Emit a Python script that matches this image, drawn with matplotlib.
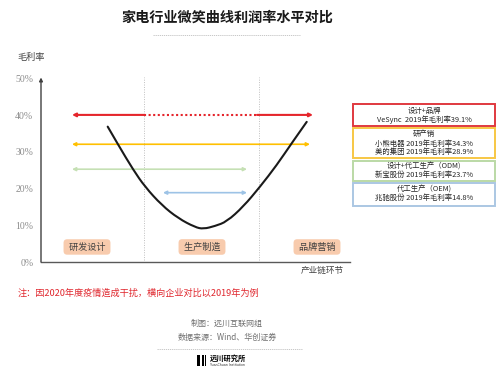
import matplotlib
matplotlib.use("Agg")
import matplotlib.pyplot as plt
from matplotlib.patches import Rectangle, PathPatch
from matplotlib.path import Path

plt.rcParams['font.family'] = ['Noto Sans CJK SC', 'DejaVu Sans']

# ---------------- data ----------------
title = '家电行业微笑曲线利润率水平对比'
stages = ['研发设计', '生产制造', '品牌营销']
stage_centers = [46, 161, 276]          # x positions along the value chain
stage_bounds = [103, 218]               # boundaries between stages
yticks = [0, 10, 20, 30, 40, 50]
ytick_labels = ['0%', '10%', '20%', '30%', '40%', '50%']

# smile curve: x along chain, y = gross margin %
curve_x = [66.7, 77.3, 92.3, 104, 120.7, 137.3, 154, 162.3, 174, 185.7, 202.3, 219, 235.7, 250.7, 265.7]
curve_y = [36.9, 31.9, 25.1, 20.5, 15.5, 11.9, 9.5, 9.0, 9.8, 11.0, 15.1, 20.5, 26.4, 32.4, 38.2]

# margin-level arrows
level_names = ['设计+品牌', '研产销', '设计+代工生产（ODM)', '代工生产（OEM)']
level_values = [40.1, 32.1, 25.3, 18.9]
level_start = [31, 31, 31, 122]
level_end = [272, 269, 206, 206]
level_colors = ['#E5252C', '#FFC000', '#C5E0B4', '#9DC3E6']
box_edge = ['#E0393F', '#F7C744', '#BBD9A6', '#ABC7E3']
level_details = [
    ['VeSync  2019年毛利率39.1%'],
    ['小熊电器 2019年毛利率34.3%', '美的集团 2019年毛利率28.9%'],
    ['新宝股份 2019年毛利率23.7%'],
    ['兆驰股份 2019年毛利率14.8%'],
]

# ---------------- figure ----------------
W, H = 500, 373
fig = plt.figure(figsize=(W / 100, H / 100), dpi=100)
fig.patch.set_facecolor('white')

ov = fig.add_axes([0, 0, 1, 1])
ov.set_xlim(0, W)
ov.set_ylim(0, H)
ov.axis('off')
Y = lambda py: H - py

ax_left, ax_right, ax_bottom = 41, 350, 262
ymax = 52
ax_h = ymax * 3.668
ax = fig.add_axes([ax_left / W, (H - ax_bottom) / H, (ax_right - ax_left) / W, ax_h / H])
ax.set_facecolor('none')
ax.set_xlim(0, ax_right - ax_left)
ax.set_ylim(0, ymax)
for s in ['top', 'right', 'left']:
    ax.spines[s].set_visible(False)
ax.spines['bottom'].set_color('#595959')
ax.spines['bottom'].set_linewidth(1.0)
ax.set_xticks([])
ax.set_yticks(yticks)
ax.set_yticklabels(ytick_labels, family='Liberation Serif', fontsize=7, color='#8c8c8c')
ax.tick_params(axis='y', length=0, pad=5.5)
ax.annotate('', xy=(0, 50.3), xytext=(0, 0), annotation_clip=False,
            arrowprops=dict(arrowstyle='-|>', color='#404040', lw=1.0,
                            mutation_scale=5, shrinkA=0, shrinkB=0))

# stage boundaries
for b in stage_bounds:
    ax.plot([b, b], [0.5, 50.5], color='#BFBFBF', lw=0.7, ls=(0, (1, 1.5)))

# arrows
def arrow(x0, x1, y, c, lw=1.3):
    ax.annotate('', xy=(x0, y), xytext=(x1, y),
                arrowprops=dict(arrowstyle='-|>', color=c, lw=lw, mutation_scale=5,
                                shrinkA=0, shrinkB=0))

# red: solid - dotted - solid
r = 0
arrow(level_start[r], stage_bounds[0], level_values[r], level_colors[r], 1.5)
ax.plot([stage_bounds[0], stage_bounds[1]], [level_values[r]] * 2, color=level_colors[r],
        lw=1.5, ls=(0, (1, 1.2)))
arrow(level_end[r], stage_bounds[1] - 2, level_values[r], level_colors[r], 1.5)
for i in range(1, 4):
    ax.annotate('', xy=(level_start[i], level_values[i]), xytext=(level_end[i], level_values[i]),
                arrowprops=dict(arrowstyle='<|-|>', color=level_colors[i], lw=1.2,
                                mutation_scale=5, shrinkA=0, shrinkB=0))

# curve: smooth quadratic Bezier path through the read points (midpoint scheme)
pts = list(zip(curve_x, curve_y))
verts = [pts[0]]
codes = [Path.MOVETO]
for k in range(1, len(pts) - 1):
    mid_next = ((pts[k][0] + pts[k + 1][0]) / 2, (pts[k][1] + pts[k + 1][1]) / 2)
    if k == len(pts) - 2:
        mid_next = pts[-1]
    verts += [pts[k], mid_next]
    codes += [Path.CURVE3, Path.CURVE3]
ax.add_patch(PathPatch(Path(verts, codes), fill=False, ec='#1a1a1a', lw=1.5,
                       capstyle='round', joinstyle='round', zorder=5))

# stage labels
for name, cx in zip(stages, stage_centers):
    ax.text(cx, 4.1, ' ' + name + ' ', ha='center', va='center', fontsize=6.6, color='#404040',
            bbox=dict(boxstyle='round,pad=0.35,rounding_size=0.4', fc='#F8CBAD', ec='none'))

# ---------------- overlay texts ----------------
ov.text(227, Y(18), title, ha='center', va='center', fontsize=10.2, fontweight='bold', color='#1a1a1a')
ov.plot([153, 300], [Y(35), Y(35)], color='#BFBFBF', lw=0.6, ls=(0, (1.5, 1)))
ov.text(31, Y(57), '毛利率', ha='center', va='center', fontsize=6.6, color='#404040')
ov.text(322, Y(270), '产业链环节', ha='center', va='center', fontsize=6.2, color='#404040')

# legend boxes
boxes = [(104, 126), (128, 158), (161, 181), (183, 206)]
text_rows = [[110.7, 119.5], [134.3, 143.7, 151.7], [166.7, 175.3], [189.5, 198.3]]
for i, (y0, y1) in enumerate(boxes):
    ov.add_patch(Rectangle((353, Y(y1)), 142, y1 - y0, fill=False, ec=box_edge[i], lw=1.4))
    lines = [level_names[i]] + level_details[i]
    for t, py in zip(lines, text_rows[i]):
        ov.text(424, Y(py), t, ha='center', va='center', fontsize=5.3, color='#262626')

# note
ov.text(18, Y(293), '注：因2020年度疫情造成干扰，横向企业对比以2019年为例', ha='left', va='center',
        fontsize=6.6, color='#E0272E', fontweight='medium')
ov.text(227, Y(323), '制图：远川互联网组', ha='center', va='center', fontsize=5.8, color='#707070')
ov.text(227, Y(337), '数据来源：Wind、华创证券', ha='center', va='center', fontsize=5.8, color='#707070')
ov.plot([157, 302], [Y(349), Y(349)], color='#BFBFBF', lw=0.6, ls=(0, (1.5, 1)))

# logo
ov.add_patch(Rectangle((196.5, Y(366)), 3.5, 11, fc='black', ec='none'))
ov.add_patch(Rectangle((201.5, Y(366)), 2.2, 11, fc='black', ec='none'))
ov.add_patch(Rectangle((205.2, Y(366)), 1.2, 11, fc='black', ec='none'))
ov.text(209.5, Y(358.5), '远川研究所', ha='left', va='center', fontsize=5.2, fontweight='bold', color='black')
ov.text(210, Y(364.5), 'YuanChuan Institution', ha='left', va='center', fontsize=2.3, color='#333333',
        family='DejaVu Sans')

fig.savefig('out.png', dpi=100, facecolor='white')
